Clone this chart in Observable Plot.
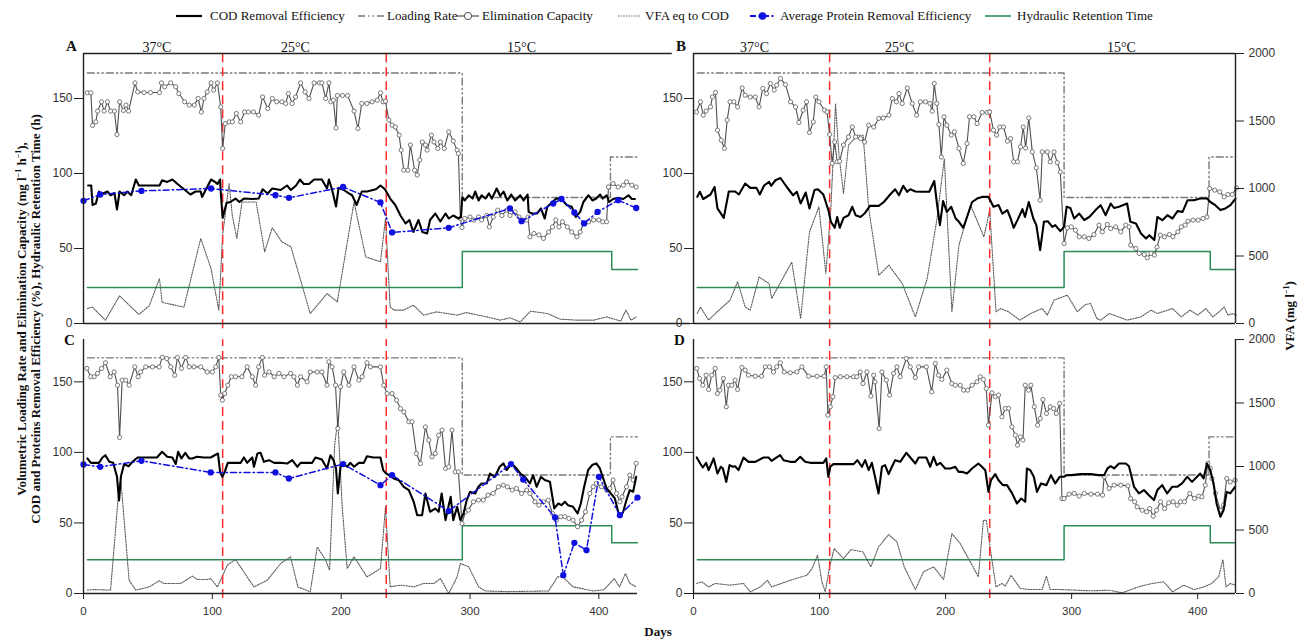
<!DOCTYPE html>
<html><head><meta charset="utf-8">
<script src="https://cdn.jsdelivr.net/npm/d3@7"></script>
<script src="https://cdn.jsdelivr.net/npm/@observablehq/plot@0.6"></script>
<style>
html,body{margin:0;padding:0;background:#fff;}
body{width:1303px;height:644px;overflow:hidden;position:relative;font-family:"Liberation Serif","Times New Roman",serif;}
.abs{position:absolute;}
</style></head><body>
<script>
// ---------- data (days, value) ----------
const phaseDays = [108, 235];
const tempLabels = ["37°C", "25°C", "15°C"];
const tempDaysA = [57, 164.5, 340];
const tempDaysB = [48.4, 163.5, 339.5];
const lrDays = [3, 294, 409, 430];
const lrVals = [167, 84, 111, 111];
const hrtDays = [3, 294, 410, 430];
const hrtVals = [24, 48, 36, 36];
const yTicks = [0, 50, 100, 150];
const vfaTicks = [0, 500, 1000, 1500, 2000];
const xTicks = [0, 100, 200, 300, 400];

const codA = [[3.6,92],[6,92],[7,79],[9.6,80],[12,88],[13,85.5],[16,87],[18.6,88],[21,85.5],[24,87],[26,76],[28,88],[31.5,85.5],[34,88],[37,85.5],[40.6,96],[43,92],[50,92],[59,92],[61,95.5],[65,94.4],[69,96],[73,93],[78,89.5],[83,86],[87,88],[91,88],[92,84.4],[96,91],[99,96],[102,94.4],[104,93],[106,96],[106.5,88],[108,70.4],[111,80.4],[114,81],[118,83.3],[121,81],[124.5,83.3],[131,83],[136,83.3],[139,89.5],[143,86.7],[146.5,90],[153,89],[158,92],[161,89],[165,92],[168,96],[171,93],[175,93],[179,96],[185,96],[189,90],[190.5,96],[193,89],[196,78],[198,90.4],[202,89],[206,86.7],[208.5,85.5],[212,79],[216,88],[220,88],[227,89.5],[230.5,92],[234,89.5],[238,83.3],[242,79],[246,72],[250,66.7],[253,69],[256,61],[260,69],[263,61],[266.7,60],[269,69],[273,73.3],[277,68],[281,73.3],[283.5,70],[287,72],[291,70],[293,71],[294,84],[296,82],[299,85.5],[302,83.3],[304,88],[306.7,82],[309,85.5],[312,83.3],[314.7,86.7],[317,83.3],[320.7,90],[323.5,85],[326,88],[329,82],[332,86],[335,82],[339,85.5],[341.6,82],[344.7,86],[345.5,74.4],[348,73.3],[352,73.3],[355,76.7],[358,70],[360,77.8],[364,81],[367,83.3],[371,83],[375,79],[379,77.8],[382,71],[385.5,74.4],[388,81],[392,85.5],[395,82],[398,83.3],[401,86],[403,83.3],[406,85.5],[408,81],[411,83],[415,83.8],[419,83],[423,85.5],[425.6,83],[428,83]];
const ecA = [[3,153.8],[5.7,153.8],[7,132],[9.6,134.4],[11,141.6],[14,147.8],[16,141.6],[18.6,147.8],[21,141.6],[24,141.6],[26,126],[28,147.8],[31,142],[33,145.6],[35,141.6],[40,160.4],[42,154.4],[47,154],[52,154],[59,154],[60.5,160.4],[63,157.8],[67.7,160.4],[71.6,157.8],[74,153.3],[78.5,147.8],[82,145.6],[86,145.6],[89,150],[91.5,141],[93.5,150],[96,154.4],[99,160.4],[101,155.6],[104,160.4],[106.5,144.4],[108,116.7],[110,133.3],[113,134.4],[115.5,134.4],[118.6,140],[122,134.4],[125,141],[128,141],[132,141],[136,138.9],[139,151],[143,143.3],[146.5,150],[150,147.8],[154,147.8],[157,146.7],[159,153.3],[162,146.7],[164.6,151],[168.5,160.4],[172,154.4],[175,150],[179,160.4],[183,160.4],[185,160.4],[188,150],[190.5,160.4],[192,147.8],[194,148.9],[196,130.4],[197,152],[201,152],[205,152],[210,141.6],[213,130],[216,146.7],[220,146.7],[224,147.8],[228,148.9],[230.5,153.8],[232.5,147.8],[234.4,148.2],[237,135.6],[239.5,132.2],[242,131],[245,125.6],[246.5,115.6],[248.6,102.2],[251.7,102.2],[253.7,119],[257,102.2],[259,99],[261,109],[263,121],[265.4,119],[266.7,115.6],[270,125.6],[272,121],[275,116.7],[277,121],[280,116.7],[283.5,127.8],[287,121.6],[290,115.6],[291,113.3],[292.5,70],[293.8,64],[296,70],[300,71],[303,69],[306.7,71],[309,69],[313,72],[315,64.4],[318,71],[321.5,75.6],[324.8,72],[328.5,75.6],[331,72],[335,74.4],[338,71],[341,69],[344,69],[345,71],[346.5,57.8],[349.6,60],[353.5,59],[357,56.7],[361,61],[364,64.4],[366.6,69],[369,64.4],[371.7,67.8],[375.5,64.4],[379,61],[383,57.8],[385.5,61],[388,66.7],[392,67.8],[396,69],[400,69],[403,67.8],[406,67.8],[407.5,91],[411,93.3],[415,91],[419,92.2],[421.5,94.4],[425.6,92.2],[429,91]];
const protA = [[0,81.8],[13,86],[45,88.4],[99,90],[149,85.5],[159.5,83.8],[201.5,91],[230.5,80.7],[239.5,60.7],[283.5,63.8],[331,76.7],[340,68.2],[364.6,80],[371,83],[381,74],[388.6,66.7],[399,74.4],[415,82.2],[429,77]];
const vfaA = [[3,111],[7,122],[11,81],[17,25],[28,205],[43,67],[51,131],[59,333],[61,156],[78,122],[91,630],[99,407],[105,99],[108,654],[113,1037],[115.5,800],[119,630],[123,900],[134,900],[140.6,531],[146.5,709],[154,605],[161,568],[176,74],[189,222],[197,160],[210,900],[219,494],[230.5,457],[234.4,778],[238,122],[241,99],[248.6,99],[256,136],[264,62],[274,86],[282,74],[290,62],[297,81],[313,49],[323.5,25],[331,42],[339,12],[347,91],[360,74],[370,32],[383,25],[396,25],[406,49],[417,18],[421,99],[425,25],[429,49]];

const codB = [[3,84.4],[5,87.8],[7.7,83],[13.5,86],[16.7,91],[19,76.7],[24,70.4],[28,88],[33,88],[36,86],[41,93.3],[45,90.4],[50,90.4],[52.6,86],[56,92],[60,94.4],[61.6,91.8],[65,95.5],[69,97],[74,91],[79,85.5],[82,87.8],[85,80],[89,87.3],[92,76.7],[96,89],[98.7,89.5],[103,86],[107,75.6],[109,67.8],[112,63.8],[114,71],[116,63.8],[119,70.4],[123,72.2],[126,77.8],[128.6,72.2],[132.5,71],[135.7,73.3],[140,78.4],[147,78.4],[151,81],[156,86],[160,89.5],[163,85.5],[166.4,91.8],[169.6,87.8],[172,89.5],[176,88],[180,87.8],[187,87.8],[191,95],[193,81],[195.5,65.6],[198,81.6],[201,74.4],[204.5,77.8],[208,70],[210.6,67.8],[214,63.8],[217,71],[221,81],[225,83.3],[229,84.4],[234,84.4],[238,77.8],[242,79],[245,73.3],[249,75.6],[251.6,70],[254,63.8],[257,68.9],[261,76.2],[263,71],[266,81],[269.6,70],[272,65.6],[275,48.9],[278,67.8],[281,68.2],[284.7,64.4],[287,65.6],[291,61.6],[294,64.4],[296,77.8],[299,77],[302,70],[306,73.3],[310,69],[314,71],[319,75.6],[323,78.9],[327,72.2],[331,80],[333.6,77],[337.6,77.8],[344,80],[346.6,67.8],[351,66.7],[355,60],[359,56.7],[361.6,58.9],[365.6,55.6],[368,71],[372,68.9],[376,72.2],[380,70],[384,74.9],[388,74.4],[392,82.2],[397,82.2],[402,83.3],[407.5,83.3],[410,81],[414,78.9],[418,75.6],[422,76.7],[426,78.9],[430,83.3]];
const ecB = [[2.4,141],[5.5,147.8],[7.7,138.9],[10,141.6],[13.5,144.4],[15,151],[17.5,154],[19,128.9],[22,122.2],[24.6,116.7],[26.7,135.6],[29,147.8],[32,147.8],[35,144.4],[38.6,157],[41,152.2],[45,151],[49,151],[52,144.4],[55,156.7],[58,153.3],[61,160],[64,155.6],[66,158.9],[69,163.3],[73,159.3],[77,147.8],[81,144.4],[83.6,134],[87,142.2],[89.7,147.8],[92,127.3],[95,134.4],[97,151],[99.5,147.8],[104,142.2],[106,141],[108,126],[110,106.7],[112,121],[114,107.8],[116,108.2],[119,119],[123,124.4],[126,131],[128.6,124.4],[132.5,123.3],[135.7,121],[139,132.2],[143,131],[147,136.7],[150.5,137],[155,138.9],[157.7,150],[161,147.8],[163,153.3],[165.6,146.7],[169.6,157],[173.5,146.7],[177,138.9],[180,147.8],[184,147.8],[187.6,146.7],[189.4,141.6],[191,160],[193,146.7],[194.7,132.7],[196.6,111],[198.7,137.8],[201,132.2],[204.5,125.6],[207,127.8],[210.6,116.7],[214,106.7],[217,120],[219,137.8],[222.5,137.8],[225,133.3],[229,140.7],[233,140.7],[235,141],[238,128.9],[240.5,125.6],[243,131],[246,131],[249,121.6],[251.6,123.3],[254,107.8],[257,107.8],[259.5,117.8],[261.6,131],[263.5,117],[266,137],[268.8,114.4],[272,103.8],[275,82.2],[276.7,114.4],[280.7,114.4],[283,107.8],[286,114.4],[288.6,107.3],[291,101],[294,53.3],[296.6,63.8],[299.7,64.4],[303,62.2],[306,57.8],[310,57.8],[313.7,56.7],[317.7,59.3],[321.7,65.6],[324.3,61.1],[328.3,66],[331,63.3],[335,64.4],[339,61.1],[343,65.6],[345.6,64.4],[346.8,52.2],[351,50],[353.6,46.7],[357.6,46],[360,43.8],[363,46.7],[365.6,45.6],[367.7,51],[370.4,58.9],[373.6,57.8],[377.6,59.3],[380.3,57.8],[384.3,61.1],[387,64.4],[390,65.6],[392.3,68.2],[396.3,68.9],[400.3,68.9],[404.3,70],[407.4,71],[409.5,90],[413.5,88.9],[417.5,87.8],[421,84.4],[424,86],[427.5,86],[430.8,90.4]];
const vfaB = [[3,74],[5.5,122],[12,25],[18.8,87],[29,173],[35,309],[41,122],[45,99],[52,344],[60,296],[62,185],[78,455],[85,37],[92,677],[99.5,864],[105,370],[109,852],[112.7,1629],[115.3,1258],[119,963],[123,1321],[130,1394],[134.6,1394],[139,852],[147,357],[155,432],[165.6,296],[176,49],[185.4,333],[193,765],[199,1221],[205,87],[210.6,580],[219.8,876],[230.4,642],[235,839],[240,87],[243.7,111],[250,87],[259,25],[267.5,74],[276.7,111],[280.7,62],[286,173],[296.6,210],[304.5,87],[311,141],[315,148],[320,37],[323,25],[330,74],[344,25],[355,49],[363,99],[368,74],[373.6,91],[380,111],[387,49],[394,99],[400,62],[406.5,111],[412,49],[417,87],[421,122],[424,62],[428,74],[430.8,62]];

const codC = [[3,95.7],[5.7,92.6],[12,92.6],[14.7,96.4],[17,98],[20,93.3],[23,92.6],[26,82.7],[27.6,66],[29,82.7],[31.5,91.7],[35,90.2],[38,93.3],[42,96.4],[49.6,96.4],[57,96.4],[61,100.4],[65,96.9],[69,96.4],[71.6,91.7],[73.4,100.4],[76,95.7],[79,99.7],[82,95.7],[84.5,95.7],[88,96.9],[93.5,96.4],[98.7,96.4],[101.8,98],[104.4,99.2],[106,86.2],[107.8,82.7],[109.6,86.2],[112,92.6],[117,92.6],[122,92.6],[124.5,96.4],[127,92.6],[131,96.4],[132.3,89.8],[135,99.2],[137.5,99.7],[140,93.3],[144,94.5],[148,92.6],[153,92.6],[158,92.1],[162,94.5],[166,89.8],[168.5,92.6],[173.6,92.6],[177.5,92.6],[180,96.4],[185,95],[189,88.6],[191.7,98],[194,94.5],[196,88.6],[197.4,70.9],[199.5,89.8],[202,91.7],[204.7,89.8],[207,92.6],[210,89.8],[213.7,92.6],[217.6,92.6],[220,97.3],[225,96.4],[230.5,96.4],[232.6,87.4],[234.4,85.5],[237,83.9],[240.8,81.5],[244.7,80.3],[248.6,75.6],[252.5,73.2],[256.3,65],[259,55.5],[262.8,55.5],[265.4,70.9],[269,57.9],[273,60.2],[275.7,57.9],[278,70.9],[281,52],[283.5,62.6],[285,68.5],[287,52],[290,61.4],[292.5,52],[295,56.7],[297.4,66],[300,72.1],[304,70.9],[306.5,75.6],[309,78],[313,78],[315.5,85],[319.4,82.7],[323,89.8],[326,92.2],[328.4,87.5],[332.3,92.2],[336,88.6],[339.5,84.6],[342.6,82.7],[346.5,78],[349,83.9],[351.7,75.6],[355,82.7],[358,80.4],[362,79.2],[365.4,60.3],[368.5,63.8],[371,62.6],[373.6,65],[376,62.6],[380,61.4],[383.5,56.7],[386,63.8],[388.6,75.6],[391.7,87.5],[394.8,91],[398,92.2],[400.8,88.6],[403,82.7],[406,74.5],[409.3,70.9],[412.4,67.4],[415,57.9],[417,54.4],[418.9,57.9],[421.4,66.2],[424,73.3],[426.6,72.1],[429,82.7]];
const ecC = [[2.6,159.5],[5.7,153.6],[8.3,153.6],[10.9,156],[14,159.5],[17,163.5],[20.7,153.6],[23.8,157],[26.4,147.6],[28,110.6],[30,151.2],[32.8,151.2],[35.4,147.6],[39.8,160.6],[42.4,153.6],[44.4,157],[48.3,160.6],[53.5,160.6],[58.7,160.6],[61.2,167.3],[64.6,166.5],[67.7,160.6],[70.8,154.7],[72.9,167.3],[76,159.5],[79.3,167.3],[82,160.6],[85.8,160.6],[91,160.6],[96,157],[100,157],[102.6,160.6],[105,167.3],[106.5,140.6],[107.8,137],[109.6,141.7],[112,147.6],[114.7,153.6],[118,153.6],[123,153.6],[127,160.6],[131,153.6],[133.6,147.6],[136,160.6],[138.8,167.3],[140.6,154.7],[144,157],[148,153.6],[151.7,156],[155.6,153.6],[160.7,156],[163.3,153.6],[166,147.6],[168.5,153.6],[173.6,150],[176,157],[181.4,157],[185,157],[189,147.6],[190.4,164.2],[193,160.6],[195.6,147.6],[197.4,116.9],[199.5,146.5],[202,157],[206,147.6],[210,160.6],[213.7,151.2],[216.3,153.6],[220,163.5],[222.7,160.6],[230.5,160.6],[233,147.6],[235.7,141.7],[239.5,141.7],[243,137],[246,131],[248.6,128.7],[252.5,121.7],[255,121.7],[258.4,99.2],[261.5,92.1],[265.4,118],[268,108.7],[270.5,96.9],[273,99.2],[275.7,112.2],[278.3,115.8],[281,88.6],[283.5,89.8],[286,115.8],[288.6,86.2],[291,86.2],[293.8,49.6],[296.4,57.9],[298.7,59.1],[302.6,65],[306.5,66.2],[310.3,66.2],[314,69.7],[318,70.9],[322,75.6],[325.8,76.8],[329,75.6],[332.8,73.3],[336,74.4],[340,70.9],[344,73.3],[346.5,70.9],[350.4,65],[353.5,62.6],[357,65],[360.7,66.2],[364,56.7],[367,52],[370.5,54.4],[373.6,54.4],[376.7,53.2],[380,52],[383.5,47.3],[386.6,52],[389.6,57.9],[393,70.9],[395.6,75.6],[398,78],[402,75.6],[406,73.3],[408.5,74.4],[411,80.4],[413.7,70.9],[416.3,65],[418,68.5],[421.4,75.6],[424,83.9],[426.6,80.4],[429,92.2]];
const protC = [[0,91.4],[13,89.8],[45,94],[98.7,85.8],[149,85.8],[159.4,81.5],[201.5,91.7],[230.5,76.8],[239.5,83.9],[283.5,58.4],[331.8,91.7],[341.3,80.8],[366,53.9],[372.4,13],[381,35.9],[390.4,30.7],[400,82.7],[416.3,55.5],[430,68]];
const vfaC = [[3,27],[7,31],[21,27],[27.6,839],[29,891],[35.4,104],[40.6,27],[51,52],[58.7,100],[62.5,79],[75.5,79],[84.5,137],[88.4,110],[96,110],[98.7,118],[104,52],[111.6,222],[118,268],[127,131],[132.3,52],[142.6,104],[153,236],[160.7,289],[166.4,52],[176,13],[181.4,366],[188,262],[191,183],[195,1177],[197.4,1363],[200.8,682],[204.7,196],[210,289],[220,131],[230.5,196],[234.4,682],[238,52],[246,66],[256.3,52],[264,79],[272,79],[277,118],[283.5,0],[290,131],[292.5,236],[299,210],[306.7,52],[312,20],[330,15],[361,20],[368,131],[372,131],[380,52],[396,20],[404,30],[412,118],[416,52],[420.7,157],[424,80],[429,52]];

const codD = [[2.6,96.4],[5.3,92.1],[7.4,89.3],[10,92.6],[12,87.4],[14.5,92.6],[16,95.7],[19,85],[21.7,89.8],[23.3,88.6],[26,79.1],[28.6,91],[31.2,89.8],[33,90.2],[35.7,87.4],[39.7,96.4],[43.6,93.3],[49,93.3],[55.6,96.4],[59.5,96.4],[62,94],[66,96.4],[68.8,98],[71.4,94.5],[76.7,93.3],[80.7,93.3],[84.7,96.9],[88.6,93.3],[92.6,92.6],[98,92.6],[103,92.6],[105.3,95.7],[107,82.7],[108.5,89.8],[111,91.7],[116.4,91.7],[121.7,91.7],[127,91.7],[130,94.5],[133.6,89.8],[136.2,94.5],[139,87.4],[141.5,92.6],[144,82.7],[146.8,70.9],[149.5,89.8],[152,91],[154.8,84.6],[157.4,89.8],[160,94.5],[164,93.3],[168.8,99.7],[172,96.4],[176,92.1],[178.6,96.4],[184.7,96.4],[187.8,89.8],[190.5,96.9],[193,91],[195.8,92.6],[199.7,88.6],[203.7,88.6],[207.7,89.8],[210.3,86.2],[213,86.2],[217,85],[221,88.6],[226,92.1],[228.8,89.8],[231.5,87.4],[234,72],[236,80.3],[239.4,84.6],[242,80.3],[245.5,76.8],[248.7,76.8],[252.6,71.3],[256.6,63.8],[260,67.3],[263.2,65],[264.5,88.6],[267.2,87.4],[270,82.7],[272.5,72],[275.7,78],[280,76.8],[283.6,83.9],[287,78],[290.5,82.7],[293.7,82.7],[296.3,83.9],[300,83.9],[307,84.6],[315,84.6],[321.4,83.9],[325.8,83.9],[328.4,88.6],[331,90.2],[333.7,88.6],[337.6,92.1],[343,92.1],[345.5,90.2],[349.5,75.6],[353.4,70.9],[357.4,73.3],[361.3,69.7],[365.3,66.2],[368,73.3],[371.8,76.8],[375.8,70.9],[379.7,75.6],[383.7,75.6],[387.6,78],[391.6,82.7],[395.5,79.1],[399.5,82.7],[402,85],[404.7,81.5],[407.4,92.1],[410,87.4],[412.6,78],[415,63.8],[418,54.4],[420.5,59],[423,72],[425.8,71],[429.7,75.6]];
const ecD = [[2.6,159.5],[4.8,152.4],[7.4,147.6],[10,154.7],[12,144.6],[14.5,154.7],[17.2,159.5],[19,141.7],[21,144.1],[23.8,152.4],[26,132.3],[27.8,147.6],[30.4,147.6],[33,151.2],[35,144.6],[38.4,160.2],[41,158.3],[43.6,154.7],[49,154],[54,154],[57,160.6],[60.3,160.6],[63.5,157],[66,160.6],[68.8,163.5],[72,157],[76.7,156.4],[82,157],[86,160.6],[91.3,154],[98,154],[103.7,154],[105.3,160.6],[106.6,126.4],[108.5,132.3],[110.6,139.4],[112.4,153],[116.4,153.6],[121.7,153.6],[127,153.6],[129.6,153.6],[132.3,157],[134.4,148.8],[137.6,157],[140.7,139.9],[142.9,154.7],[144,150],[147.3,116.9],[149.5,157],[153,151.2],[155.6,140.6],[158.7,156],[161.4,160.6],[164,153.6],[168.8,166.5],[172,160.6],[176,153],[178.6,160.6],[184.7,160.6],[189,142.9],[191.8,163],[194.4,154.7],[197,151.7],[201,158.3],[205,148.8],[207.7,147.6],[211.6,147.6],[214.3,144.1],[217.5,144.1],[221,147.6],[224.9,150],[227.5,153.6],[230,151.7],[232.3,145.3],[234,119.3],[236.8,142.2],[239.4,139.4],[242,140.6],[244.7,125.2],[247.4,131.1],[250,131.1],[252.6,118.1],[255.3,112.2],[257.1,105.1],[259.3,111],[261.4,108.7],[263.2,147.6],[265.9,144.1],[267.7,147.6],[270.4,132.3],[273,119.3],[275.1,124],[277.2,137.5],[280,127.6],[283,132.3],[285.7,131.1],[287.8,127.6],[290.5,134.7],[292.3,67.3],[294,67.3],[298,70.4],[302,70.9],[306,69],[310,70.9],[315.3,70.4],[320.5,70.4],[324.5,69.7],[325.8,82.7],[329.7,74.4],[333.7,76.8],[339,76.8],[344.7,76.3],[346.8,67.3],[350,65],[352,61.4],[356,59],[359.5,57.9],[362,60.2],[364.7,54.8],[367.4,59],[370.5,65],[373.7,60.2],[377,64.3],[380.5,65],[383.7,62.6],[386.3,65],[389.5,65],[393.7,70.9],[397.4,67.3],[400.8,69],[403.4,68.5],[406,76.8],[408,92.1],[410,88.6],[411.3,81.5],[414,70.9],[418,59],[420.5,62.6],[423,81.5],[425.8,79.1],[429.7,80.3]];
const vfaD = [[2.6,79],[6.6,92],[12,52],[17.2,79],[29,66],[39.7,79],[45,13],[53,52],[58.7,104],[62,52],[76.7,104],[90,144],[94,196],[98.4,302],[101.9,92],[104.5,13],[108,210],[111.6,354],[119,275],[125,346],[134.4,327],[140.7,210],[146.8,366],[154.8,464],[161.4,406],[167.2,210],[176,31],[182.5,171],[190.5,210],[198.4,110],[205,472],[211.6,393],[219.6,249],[226,131],[230,577],[232.3,577],[236.8,262],[240,52],[244.7,79],[247.4,58],[251.9,144],[259.3,39],[267.2,31],[276.5,31],[280,137],[283,31],[291,31],[301.6,27],[315,21],[330,26],[340,5],[349.5,40],[355,58],[364,79],[373,92],[380,13],[389,66],[397,31],[405,52],[411,79],[416.6,131],[420,267],[422.5,52],[425.8,79],[429.7,66]];

const legendLabels = ["COD Removal Efficiency","Loading Rate","Elimination Capacity","VFA eq to COD","Average Protein Removal Efficiency","Hydraulic Retention Time"];

// ---------- styles ----------
const vfaK = 180 / 2000;   // right axis (VFA mg/l) mapped onto left scale 0..180
const C = {axis:"#222", cod:"#000", ec:"#505050", ecDot:"#6a6a6a", lr:"#7a7a7a", vfa:"#5a5a5a", prot:"#1010e0", hrt:"#2e8b57", red:"#ff2a2a"};
const X = d => d[0], Y = d => d[1];
const pairs = (xs, ys) => xs.map((x, i) => [x, ys[i]]);
const serif = "Liberation Serif, Times New Roman, serif";

function panel(cfg) {
  const m = [];
  m.push(Plot.line(pairs(hrtDays, hrtVals), {x:X, y:Y, curve:"step-after", stroke:C.hrt, strokeWidth:1.5}));
  m.push(Plot.line(pairs(lrDays, lrVals), {x:X, y:Y, curve:"step-after", stroke:C.lr, strokeWidth:1.4, strokeDasharray:"7,3,1.5,3,1.5,3"}));
  m.push(Plot.line(cfg.vfa, {x:X, y:d => d[1] * vfaK, stroke:C.vfa, strokeWidth:1.1, strokeDasharray:"1.3,1.3"}));
  m.push(Plot.ruleX(phaseDays, {y1:-3.5, y2:180, stroke:C.red, strokeWidth:1.5, strokeDasharray:"9,5"}));
  m.push(Plot.line(cfg.ec, {x:X, y:Y, stroke:C.ec, strokeWidth:1.1}));
  m.push(Plot.dot(cfg.ec, {x:X, y:Y, r:2.1, stroke:C.ecDot, strokeWidth:0.9, fill:"white"}));
  m.push(Plot.line(cfg.cod, {x:X, y:Y, stroke:C.cod, strokeWidth:2.1}));
  if (cfg.prot) {
    m.push(Plot.line(cfg.prot, {x:X, y:Y, stroke:C.prot, strokeWidth:1.5, strokeDasharray:"6,3,1.5,3"}));
    m.push(Plot.dot(cfg.prot, {x:X, y:Y, r:2.4, fill:C.prot, stroke:C.prot}));
  }
  // frame lines
  m.push(Plot.ruleX([0], {y1:0, y2:180, stroke:C.axis, strokeWidth:1.4}));
  m.push(Plot.ruleY([0], {x1:0, x2:cfg.bottomEnd, stroke:C.axis, strokeWidth:1.4}));
  if (cfg.topEnd) m.push(Plot.ruleY([180], {x1:0, x2:cfg.topEnd, stroke:C.axis, strokeWidth:1.4}));
  if (cfg.right) m.push(Plot.ruleX([430], {y1:0, y2:180, stroke:C.axis, strokeWidth:1.4}));
  // axes
  m.push(Plot.axisY(yTicks, {anchor:"left", tickSize:9, tickPadding:2, fontSize:12, label:null, stroke:C.axis, fill:"#333"}));
  if (cfg.right) m.push(Plot.axisY(vfaTicks.map(v => v * vfaK), {anchor:"right", tickSize:8, tickPadding:5, fontSize:12, label:null, tickFormat:d => String(Math.round(d / vfaK)), stroke:C.axis, fill:"#333"}));
  if (cfg.xAxis) m.push(Plot.axisX(xTicks, {anchor:"bottom", tickSize:6, tickPadding:7, fontSize:11.5, label:null, stroke:C.axis, fill:"#333"}));
  if (cfg.temps) m.push(Plot.text(tempLabels, {x:(d, i) => cfg.temps[i], y:180, text:d => d, dy:-2, lineAnchor:"bottom", fontSize:14, fontFamily:serif, fill:"#111"}));
  const p = Plot.plot({
    width: cfg.width, height: cfg.height,
    marginLeft: cfg.ml, marginRight: cfg.mr, marginTop: cfg.mt, marginBottom: cfg.mb,
    x: {domain:[0, 430], axis: cfg.xAxis ? undefined : null},
    y: {domain:[0, 180]},
    style: {background:"transparent", fontFamily:"Liberation Sans, Arial, sans-serif", overflow:"visible", color:"#222"},
    marks: m
  });
  const d = document.createElement("div");
  d.className = "abs";
  d.style.left = cfg.left + "px"; d.style.top = cfg.top + "px";
  d.appendChild(p);
  document.body.appendChild(d);
}

panel({cod:codA, ec:ecA, vfa:vfaA, prot:protA, temps:tempDaysA, left:0, top:30, width:650, height:308, ml:83, mr:13, mt:23, mb:15, bottomEnd:471, topEnd:457});
panel({cod:codB, ec:ecB, vfa:vfaB, temps:tempDaysB, right:true, left:650, top:30, width:653, height:308, ml:43, mr:68, mt:23, mb:15, bottomEnd:430, topEnd:430});
panel({cod:codC, ec:ecC, vfa:vfaC, prot:protC, xAxis:true, left:0, top:325, width:650, height:300, ml:83, mr:13, mt:14, mb:32, bottomEnd:430});
panel({cod:codD, ec:ecD, vfa:vfaD, xAxis:true, right:true, left:650, top:325, width:653, height:300, ml:43, mr:68, mt:14, mb:32, bottomEnd:430});

// ---------- text: letters, titles, legend ----------
function addDiv(html, css) {
  const d = document.createElement("div");
  d.innerHTML = html;
  d.style.cssText = "position:absolute;" + css;
  document.body.appendChild(d);
  return d;
}
[["A",66,39],["B",676,39],["C",64,333],["D",674,333]].forEach(([t,x,y]) => addDiv(t, `left:${x}px;top:${y}px;font-weight:bold;font-size:15px;line-height:15px;color:#111;`));

addDiv("Volumetric Loading Rate and Elimination Capacity (mg l<sup style='font-size:8px'>−1</sup> h<sup style='font-size:8px'>−1</sup>),<br>COD and Proteins Removal Efficiency (%), Hydraulic Retention Time (h)",
  "left:-254px;top:305px;width:560px;height:28px;transform:rotate(-90deg);transform-origin:center;text-align:center;font-weight:bold;font-size:13px;line-height:13.5px;color:#111;white-space:nowrap;");
addDiv("VFA (mg l<sup style='font-size:8px'>−1</sup>)", "left:1227px;top:308px;width:120px;height:16px;transform:rotate(-90deg);transform-origin:center;text-align:center;font-weight:bold;font-size:13px;line-height:16px;color:#111;white-space:nowrap;");
addDiv("Days", "left:628px;top:624px;width:60px;text-align:center;font-weight:bold;font-size:13px;line-height:16px;color:#111;");

// legend
const legendX = [[176,210],[358,387],[457,482],[618,645],[750,780],[985,1017]];
function swatch(i) {
  const w = 26;
  const s = {
    0: `<line x1="0" y1="6" x2="${w}" y2="6" stroke="${C.cod}" stroke-width="2.2"/>`,
    1: `<line x1="0" y1="6" x2="${w}" y2="6" stroke="${C.lr}" stroke-width="1.4" stroke-dasharray="7,3,1.5,3,1.5,3"/>`,
    2: `<line x1="0" y1="6" x2="${w-4}" y2="6" stroke="${C.ec}" stroke-width="1.2"/><circle cx="${(w-4)/2}" cy="6" r="3.6" fill="white" stroke="${C.ec}" stroke-width="1"/>`,
    3: `<line x1="0" y1="6" x2="${w-4}" y2="6" stroke="${C.vfa}" stroke-width="1.1" stroke-dasharray="1.3,1.3"/>`,
    4: `<line x1="0" y1="6" x2="${w-1}" y2="6" stroke="${C.prot}" stroke-width="2" stroke-dasharray="6,2.5,2,2.5"/><circle cx="${(w-1)/2}" cy="6" r="3.8" fill="${C.prot}"/>`,
    5: `<line x1="0" y1="6" x2="${w}" y2="6" stroke="${C.hrt}" stroke-width="1.6"/>`
  }[i];
  return `<svg width="${w}" height="12" style="display:block">${s}</svg>`;
}
legendLabels.forEach((lab, i) => {
  const [sx, tx] = legendX[i];
  addDiv(swatch(i), `left:${sx}px;top:10px;`);
  addDiv(lab, `left:${tx}px;top:7px;font-size:13px;line-height:18px;color:#111;white-space:nowrap;`);
});
</script>
</body></html>
